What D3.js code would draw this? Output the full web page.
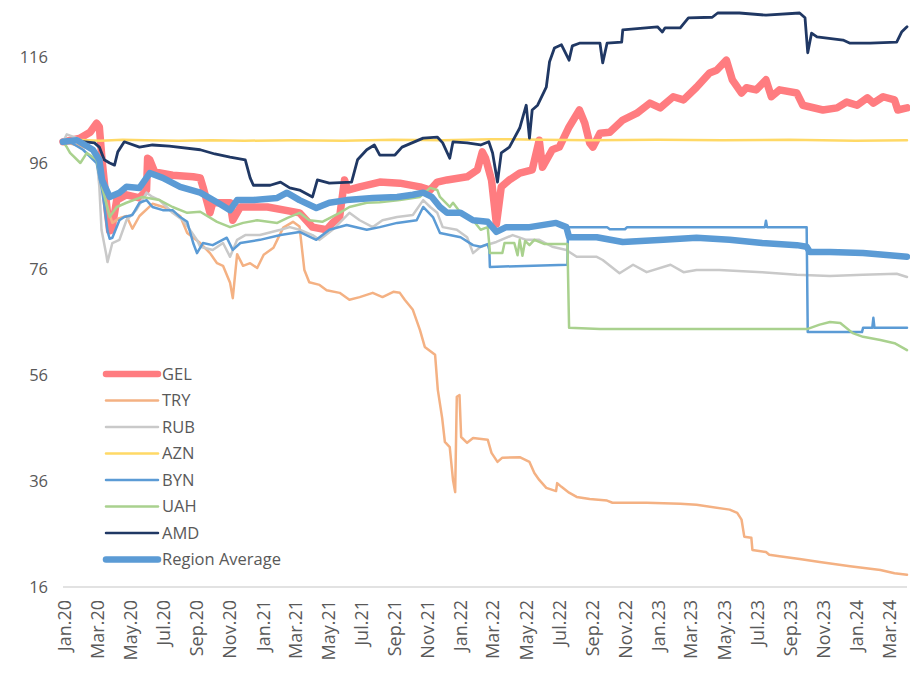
<!DOCTYPE html>
<html>
<head>
<meta charset="utf-8">
<script src="https://cdnjs.cloudflare.com/ajax/libs/d3/7.8.5/d3.min.js"></script>
<style>
    body { margin: 0; background: #ffffff; }
    #chart text { font-family: "Open Sans", sans-serif; fill: #595959; }
</style>
</head>
<body>
<div id="chart"></div>
<script>
// Currency index vs USD, Jan 2020 = 100
const gelData = [
    ["2020-01-01", 100.0], ["2020-02-02", 100.7], ["2020-02-20", 101.8], ["2020-03-03", 103.5], ["2020-03-08", 102.8],
    ["2020-03-13", 96.6], ["2020-03-23", 86.6], ["2020-03-27", 83.2], ["2020-03-31", 83.4], ["2020-04-09", 89.0],
    ["2020-04-27", 90.0], ["2020-05-21", 89.4], ["2020-06-03", 90.9], ["2020-06-05", 96.9], ["2020-06-09", 96.6],
    ["2020-06-18", 94.3], ["2020-07-21", 93.7], ["2020-08-28", 93.4], ["2020-09-10", 93.2], ["2020-09-15", 91.5],
    ["2020-09-28", 86.6], ["2020-10-03", 88.5], ["2020-11-04", 88.5], ["2020-11-09", 85.2], ["2020-11-23", 87.7],
    ["2021-01-12", 87.7], ["2021-03-12", 86.6], ["2021-04-05", 83.9], ["2021-05-01", 83.4], ["2021-05-12", 84.7],
    ["2021-05-25", 85.8], ["2021-06-03", 92.8], ["2021-06-09", 90.9], ["2021-07-01", 91.5], ["2021-08-07", 92.4],
    ["2021-09-13", 92.2], ["2021-10-20", 91.5], ["2021-11-08", 90.9], ["2021-11-21", 92.4], ["2021-12-09", 92.8],
    ["2022-01-15", 93.4], ["2022-02-03", 94.7], ["2022-02-12", 98.1], ["2022-02-18", 96.9], ["2022-03-01", 92.8],
    ["2022-03-10", 84.5], ["2022-03-12", 86.0], ["2022-03-19", 91.5], ["2022-04-03", 92.8], ["2022-04-22", 94.1],
    ["2022-05-15", 94.7], ["2022-05-28", 100.3], ["2022-06-03", 95.2], ["2022-06-21", 98.5], ["2022-07-04", 99.0],
    ["2022-07-22", 102.8], ["2022-08-10", 106.0], ["2022-08-20", 103.5], ["2022-08-29", 99.8], ["2022-09-04", 99.0],
    ["2022-09-17", 101.6], ["2022-10-05", 101.8], ["2022-10-29", 104.1], ["2022-11-24", 105.4], ["2022-12-18", 107.3],
    ["2023-01-06", 106.4], ["2023-01-30", 108.5], ["2023-02-18", 107.9], ["2023-03-14", 110.3], ["2023-04-07", 113.0],
    ["2023-04-20", 113.5], ["2023-05-08", 115.4], ["2023-05-19", 111.7], ["2023-06-05", 109.2], ["2023-06-14", 110.2],
    ["2023-07-02", 109.8], ["2023-07-20", 111.7], ["2023-07-30", 108.5], ["2023-08-14", 109.8], ["2023-09-15", 109.2],
    ["2023-09-26", 106.9], ["2023-11-02", 106.0], ["2023-11-28", 106.4], ["2023-12-16", 107.5], ["2024-01-04", 106.9],
    ["2024-01-23", 108.3], ["2024-02-03", 107.3], ["2024-02-21", 108.5], ["2024-03-13", 107.9], ["2024-03-19", 106.0],
    ["2024-04-05", 106.4]
];

const tryData = [
    ["2020-01-01", 100.0], ["2020-02-02", 99.2], ["2020-02-25", 98.5], ["2020-03-08", 95.6], ["2020-03-17", 90.0],
    ["2020-03-27", 86.2], ["2020-04-01", 84.7], ["2020-04-14", 85.6], ["2020-04-27", 86.0], ["2020-05-08", 83.6],
    ["2020-05-21", 86.0], ["2020-06-14", 88.3], ["2020-07-10", 87.5], ["2020-08-04", 86.0], ["2020-08-17", 82.8],
    ["2020-09-10", 80.9], ["2020-09-28", 79.0], ["2020-10-11", 77.1], ["2020-10-22", 76.6], ["2020-11-04", 73.4],
    ["2020-11-09", 70.5], ["2020-11-17", 78.8], ["2020-11-28", 76.6], ["2020-12-11", 77.1], ["2020-12-24", 76.2],
    ["2021-01-05", 78.7], ["2021-01-23", 80.0], ["2021-02-10", 83.8], ["2021-02-28", 84.9], ["2021-03-12", 84.0],
    ["2021-03-21", 75.8], ["2021-03-30", 73.5], ["2021-04-18", 73.0], ["2021-05-01", 72.0], ["2021-05-25", 71.5],
    ["2021-06-12", 70.2], ["2021-07-01", 70.7], ["2021-07-25", 71.5], ["2021-08-12", 70.7], ["2021-09-01", 71.7],
    ["2021-09-13", 71.5], ["2021-09-22", 70.2], ["2021-10-07", 68.3], ["2021-10-20", 64.5], ["2021-10-29", 61.3],
    ["2021-11-17", 59.8], ["2021-11-22", 53.2], ["2021-11-30", 47.9], ["2021-12-05", 43.4], ["2021-12-14", 42.4],
    ["2021-12-20", 36.2], ["2021-12-24", 33.9], ["2021-12-27", 51.9], ["2022-01-01", 52.2], ["2022-01-04", 44.3],
    ["2022-01-15", 43.2], ["2022-01-26", 44.1], ["2022-02-22", 43.8], ["2022-03-01", 41.3], ["2022-03-12", 39.6],
    ["2022-03-21", 40.4], ["2022-04-22", 40.5], ["2022-05-10", 39.6], ["2022-05-19", 37.5], ["2022-05-28", 36.2],
    ["2022-06-10", 34.7], ["2022-06-28", 34.1], ["2022-06-30", 35.6], ["2022-07-08", 34.9], ["2022-07-22", 33.8],
    ["2022-08-05", 33.0], ["2022-08-29", 32.6], ["2022-09-30", 32.3], ["2022-10-10", 31.9], ["2022-12-12", 31.9],
    ["2023-02-12", 31.7], ["2023-03-14", 31.5], ["2023-05-14", 30.6], ["2023-05-28", 30.0], ["2023-06-05", 28.7],
    ["2023-06-10", 25.5], ["2023-06-23", 25.3], ["2023-06-25", 23.0], ["2023-07-20", 22.6], ["2023-07-26", 22.1],
    ["2023-08-14", 21.8], ["2023-09-20", 21.3], ["2023-10-27", 20.7], ["2023-12-22", 19.9], ["2024-02-16", 19.2],
    ["2024-03-13", 18.6], ["2024-04-05", 18.3]
];

const rubData = [
    ["2020-01-01", 100.0], ["2020-01-08", 101.4], ["2020-01-27", 100.7], ["2020-02-20", 99.0], ["2020-03-03", 97.1],
    ["2020-03-08", 91.5], ["2020-03-12", 83.4], ["2020-03-21", 78.6], ["2020-03-23", 77.3], ["2020-04-01", 80.9],
    ["2020-04-14", 81.5], ["2020-04-27", 85.2], ["2020-05-15", 87.1], ["2020-06-03", 90.4], ["2020-06-14", 89.6],
    ["2020-06-27", 89.0], ["2020-07-10", 87.7], ["2020-07-21", 86.6], ["2020-08-09", 85.2], ["2020-08-22", 83.4],
    ["2020-09-04", 81.5], ["2020-09-10", 80.2], ["2020-10-03", 79.6], ["2020-10-22", 80.9], ["2020-11-04", 78.3],
    ["2020-11-17", 81.5], ["2020-12-02", 82.4], ["2020-12-29", 82.4], ["2021-02-05", 83.4], ["2021-02-22", 83.9],
    ["2021-03-12", 83.4], ["2021-04-05", 82.4], ["2021-04-18", 81.5], ["2021-05-12", 83.4], ["2021-06-12", 86.6],
    ["2021-07-01", 85.2], ["2021-07-25", 83.9], ["2021-08-12", 85.2], ["2021-09-08", 85.8], ["2021-10-07", 86.2],
    ["2021-10-26", 89.0], ["2021-11-08", 87.7], ["2021-11-21", 86.6], ["2021-12-01", 83.9], ["2021-12-27", 83.4],
    ["2022-01-15", 82.0], ["2022-01-26", 79.0], ["2022-02-09", 80.2], ["2022-03-10", 81.1], ["2022-04-09", 82.4],
    ["2022-05-04", 81.5], ["2022-05-28", 81.5], ["2022-06-21", 80.2], ["2022-07-17", 79.6], ["2022-08-05", 78.3],
    ["2022-09-11", 78.3], ["2022-09-22", 77.7], ["2022-10-23", 75.2], ["2022-11-17", 76.8], ["2022-12-12", 75.4],
    ["2023-01-25", 76.8], ["2023-02-18", 75.4], ["2023-03-14", 75.8], ["2023-04-25", 75.8], ["2023-07-13", 75.4],
    ["2023-09-15", 74.9], ["2023-11-15", 74.7], ["2024-01-15", 74.9], ["2024-03-17", 75.1], ["2024-04-05", 74.5]
];

const aznData = [
    ["2020-01-01", 100.0], ["2020-01-20", 100.4], ["2020-02-15", 100.3], ["2020-03-10", 100.2], ["2020-04-20", 100.4],
    ["2020-06-01", 100.3], ["2020-08-01", 100.2], ["2020-10-01", 100.3], ["2020-12-01", 100.2], ["2021-03-01", 100.3],
    ["2021-06-01", 100.2], ["2021-09-01", 100.4], ["2021-12-01", 100.3], ["2022-03-01", 100.5], ["2022-06-01", 100.4],
    ["2022-09-01", 100.3], ["2023-01-01", 100.4], ["2023-05-01", 100.3], ["2023-09-01", 100.4], ["2024-01-01", 100.2],
    ["2024-04-05", 100.3]
];

const bynData = [
    ["2020-01-01", 100.0], ["2020-01-08", 100.3], ["2020-02-07", 98.5], ["2020-03-03", 96.0], ["2020-03-13", 90.9],
    ["2020-03-17", 88.1], ["2020-03-23", 83.2], ["2020-03-27", 81.7], ["2020-04-01", 81.9], ["2020-04-14", 85.2],
    ["2020-04-23", 85.8], ["2020-05-08", 86.2], ["2020-05-21", 88.5], ["2020-06-03", 89.0], ["2020-06-14", 87.7],
    ["2020-07-03", 87.1], ["2020-07-21", 87.1], ["2020-08-04", 85.8], ["2020-08-17", 84.9], ["2020-08-28", 80.9],
    ["2020-09-04", 79.0], ["2020-09-15", 80.9], ["2020-10-03", 80.5], ["2020-10-29", 81.9], ["2020-11-09", 79.6],
    ["2020-11-23", 80.9], ["2020-12-29", 81.5], ["2021-02-05", 82.4], ["2021-03-12", 83.0], ["2021-04-12", 81.5],
    ["2021-05-06", 83.4], ["2021-06-07", 84.3], ["2021-07-14", 83.4], ["2021-08-07", 83.9], ["2021-09-08", 84.7],
    ["2021-10-14", 85.2], ["2021-10-26", 87.7], ["2021-11-13", 85.8], ["2021-11-26", 82.8], ["2022-01-03", 82.0],
    ["2022-01-26", 80.5], ["2022-02-09", 80.2], ["2022-02-22", 80.7], ["2022-02-25", 79.6], ["2022-02-26", 76.4],
    ["2022-07-19", 76.8], ["2022-07-20", 83.9], ["2022-09-30", 83.9], ["2022-10-05", 83.5], ["2022-11-02", 83.5],
    ["2022-11-06", 83.9], ["2023-07-18", 83.9], ["2023-07-20", 85.1], ["2023-07-22", 83.9], ["2023-10-03", 83.9],
    ["2023-10-05", 64.1], ["2024-01-13", 64.1], ["2024-01-15", 64.9], ["2024-02-01", 64.9], ["2024-02-03", 66.8],
    ["2024-02-05", 64.9], ["2024-04-05", 64.9]
];

const uahData = [
    ["2020-01-01", 100.0], ["2020-01-08", 99.0], ["2020-01-14", 97.9], ["2020-02-02", 96.0], ["2020-02-14", 97.9],
    ["2020-03-03", 96.6], ["2020-03-13", 91.5], ["2020-03-27", 85.8], ["2020-04-09", 87.7], ["2020-04-27", 88.5],
    ["2020-05-26", 89.6], ["2020-06-27", 89.0], ["2020-07-21", 87.7], ["2020-08-17", 86.6], ["2020-09-10", 86.8],
    ["2020-10-11", 84.9], ["2020-11-04", 83.9], ["2020-11-28", 84.7], ["2020-12-24", 85.2], ["2021-01-30", 84.7],
    ["2021-02-17", 85.6], ["2021-03-12", 86.6], ["2021-03-30", 85.2], ["2021-04-23", 84.9], ["2021-05-25", 86.6],
    ["2021-06-12", 87.7], ["2021-07-14", 88.5], ["2021-08-07", 88.6], ["2021-09-13", 89.0], ["2021-10-20", 89.6],
    ["2021-11-08", 91.3], ["2021-11-21", 90.9], ["2021-11-26", 89.6], ["2021-12-14", 87.7], ["2021-12-20", 88.5],
    ["2022-01-03", 86.6], ["2022-01-26", 85.2], ["2022-02-09", 83.4], ["2022-02-22", 83.9], ["2022-02-25", 80.5],
    ["2022-02-26", 79.0], ["2022-03-21", 79.0], ["2022-03-25", 80.9], ["2022-04-12", 80.9], ["2022-04-18", 78.6],
    ["2022-04-22", 81.5], ["2022-04-27", 78.5], ["2022-05-02", 81.3], ["2022-05-10", 80.5], ["2022-05-19", 81.5],
    ["2022-06-07", 80.7], ["2022-07-19", 80.7], ["2022-07-22", 64.9], ["2022-09-17", 64.7], ["2023-03-20", 64.7],
    ["2023-10-05", 64.7], ["2023-10-27", 65.5], ["2023-11-15", 66.0], ["2023-12-04", 65.8], ["2023-12-27", 63.9],
    ["2024-01-15", 63.2], ["2024-02-16", 62.6], ["2024-03-13", 62.0], ["2024-04-05", 60.7]
];

const amdData = [
    ["2020-01-01", 100.0], ["2020-02-02", 100.1], ["2020-02-28", 99.8], ["2020-03-08", 99.0], ["2020-03-17", 96.6],
    ["2020-03-27", 96.0], ["2020-04-05", 95.6], ["2020-04-11", 98.1], ["2020-04-23", 100.0], ["2020-05-21", 99.0],
    ["2020-06-14", 99.4], ["2020-07-15", 99.2], ["2020-09-10", 98.5], ["2020-10-07", 97.7], ["2020-11-04", 97.1],
    ["2020-12-02", 96.6], ["2020-12-11", 93.2], ["2020-12-17", 91.8], ["2021-01-17", 91.8], ["2021-02-05", 92.4],
    ["2021-02-22", 91.3], ["2021-03-12", 90.9], ["2021-04-05", 89.6], ["2021-04-14", 92.8], ["2021-05-06", 92.2],
    ["2021-06-16", 92.4], ["2021-06-27", 96.6], ["2021-07-14", 98.5], ["2021-07-28", 99.4], ["2021-08-07", 97.5],
    ["2021-09-04", 97.5], ["2021-09-17", 99.0], ["2021-10-26", 100.7], ["2021-11-21", 100.9], ["2021-12-01", 99.8],
    ["2021-12-14", 96.9], ["2021-12-20", 100.0], ["2022-01-15", 99.8], ["2022-02-09", 99.4], ["2022-02-24", 100.0],
    ["2022-03-03", 97.9], ["2022-03-12", 92.4], ["2022-03-19", 97.9], ["2022-04-03", 99.0], ["2022-04-22", 102.6],
    ["2022-05-04", 106.9], ["2022-05-10", 100.7], ["2022-05-15", 106.0], ["2022-05-25", 106.9], ["2022-06-10", 110.3],
    ["2022-06-16", 115.1], ["2022-06-25", 117.7], ["2022-07-08", 118.3], ["2022-07-22", 115.4], ["2022-07-28", 118.1],
    ["2022-08-10", 118.6], ["2022-09-17", 118.6], ["2022-09-22", 114.9], ["2022-09-30", 118.6], ["2022-10-27", 118.8],
    ["2022-10-29", 121.1], ["2023-01-01", 121.7], ["2023-01-10", 120.7], ["2023-01-15", 121.5], ["2023-02-12", 121.5],
    ["2023-02-27", 123.4], ["2023-04-12", 123.5], ["2023-04-22", 124.3], ["2023-06-01", 124.3], ["2023-07-20", 123.9],
    ["2023-09-20", 124.3], ["2023-09-30", 123.4], ["2023-10-05", 116.8], ["2023-10-12", 120.5], ["2023-10-22", 119.8],
    ["2023-12-09", 119.2], ["2023-12-22", 118.6], ["2024-01-28", 118.6], ["2024-03-17", 118.8], ["2024-03-26", 120.7],
    ["2024-04-05", 121.7]
];

const avgData = [
    ["2020-01-01", 100.0], ["2020-01-27", 100.3], ["2020-02-25", 98.5], ["2020-03-08", 96.6], ["2020-03-13", 92.8],
    ["2020-03-27", 89.6], ["2020-04-14", 90.4], ["2020-04-27", 91.5], ["2020-05-21", 91.3], ["2020-06-09", 94.1],
    ["2020-07-03", 93.2], ["2020-08-04", 91.5], ["2020-09-10", 90.4], ["2020-10-11", 88.6], ["2020-11-04", 87.1],
    ["2020-11-17", 89.0], ["2020-12-17", 89.0], ["2021-01-30", 89.4], ["2021-02-17", 90.4], ["2021-03-12", 89.0],
    ["2021-04-12", 87.5], ["2021-05-06", 88.5], ["2021-06-07", 89.0], ["2021-07-25", 89.4], ["2021-09-08", 89.6],
    ["2021-10-07", 90.0], ["2021-10-26", 90.4], ["2021-11-11", 89.6], ["2021-11-26", 87.7], ["2021-12-09", 86.6],
    ["2022-01-03", 86.6], ["2022-01-26", 85.2], ["2022-02-22", 84.9], ["2022-03-10", 83.0], ["2022-03-28", 83.9],
    ["2022-05-10", 83.9], ["2022-06-28", 84.7], ["2022-07-17", 83.9], ["2022-07-22", 82.0], ["2022-09-11", 82.0],
    ["2022-10-29", 81.1], ["2023-01-12", 81.5], ["2023-03-14", 81.9], ["2023-05-14", 81.5], ["2023-07-13", 80.9],
    ["2023-09-15", 80.5], ["2023-10-03", 80.2], ["2023-10-09", 79.2], ["2023-11-15", 79.2], ["2024-01-15", 79.0],
    ["2024-04-05", 78.3]
];

const seriesNames = ["GEL", "TRY", "RUB", "AZN", "BYN", "UAH", "AMD", "Region Average"];
const seriesValues = [gelData, tryData, rubData, aznData, bynData, uahData, amdData, avgData];
const yTickValues = [16, 36, 56, 76, 96, 116];
const dateRange = ["2020-01-01", "2024-04-05"];

// Line styles, same order as seriesNames
const colors = ["#FF7C80", "#F4B183", "#C9C9C9", "#FFD966", "#5B9BD5", "#A9D18E", "#203864", "#5B9BD5"];
const widths = [7.5, 2.5, 2.5, 2.5, 2.5, 2.5, 2.8, 6.5];

const width = 910;
const height = 674;
const plot = { left: 63, right: 907, top: 57, bottom: 587 };

const parseDate = d3.timeParse("%Y-%m-%d");

const svg = d3.select("#chart")
    .append("svg")
    .attr("width", width)
    .attr("height", height);

const x = d3.scaleTime()
    .domain(dateRange.map(parseDate))
    .range([plot.left, plot.right]);

const y = d3.scaleLinear()
    .domain([16, 116])
    .range([plot.bottom, plot.top]);

// Baseline gridline at 16
svg.append("line")
    .attr("x1", plot.left)
    .attr("x2", plot.right)
    .attr("y1", y(16))
    .attr("y2", y(16))
    .attr("stroke", "#D9D9D9")
    .attr("stroke-width", 1.5);

// Y axis labels (no line, no ticks)
const yAxis = svg.append("g")
    .attr("transform", `translate(${plot.left - 15}, 0)`)
    .call(d3.axisLeft(y).tickValues(yTickValues).tickSize(0).tickPadding(0));
yAxis.select(".domain").remove();
yAxis.selectAll("text")
    .attr("font-size", "16.5px")
    .attr("dy", "0.35em");

// X axis labels, every second month, rotated
const xAxis = svg.append("g")
    .attr("transform", `translate(0, ${y(16)})`)
    .call(d3.axisBottom(x)
        .ticks(d3.timeMonth.every(2))
        .tickFormat(d3.timeFormat("%b.%y"))
        .tickSize(0));
xAxis.select(".domain").remove();
xAxis.selectAll("text")
    .attr("font-size", "18px")
    .attr("transform", "rotate(-90)")
    .attr("x", -13)
    .attr("y", 1)
    .attr("dy", "0.36em")
    .style("text-anchor", "end");

// Series lines
const line = d3.line()
    .x(d => x(parseDate(d[0])))
    .y(d => y(d[1]));

seriesValues.forEach((data, i) => {
    svg.append("path")
        .datum(data)
        .attr("fill", "none")
        .attr("stroke", colors[i])
        .attr("stroke-width", widths[i])
        .attr("stroke-linejoin", "round")
        .attr("stroke-linecap", "round")
        .attr("d", line);
});

// Legend
const legend = svg.append("g")
    .attr("transform", "translate(106, 374)");

seriesNames.forEach((name, i) => {
    const row = legend.append("g")
        .attr("transform", `translate(0, ${i * 26.5})`);
    row.append("line")
        .attr("x1", 0)
        .attr("x2", 52)
        .attr("stroke", colors[i])
        .attr("stroke-width", widths[i] > 5 ? 6.5 : 2.5)
        .attr("stroke-linecap", "round");
    row.append("text")
        .attr("x", 56)
        .attr("dy", "0.35em")
        .attr("font-size", "16.5px")
        .text(name);
});
</script>
</body>
</html>
